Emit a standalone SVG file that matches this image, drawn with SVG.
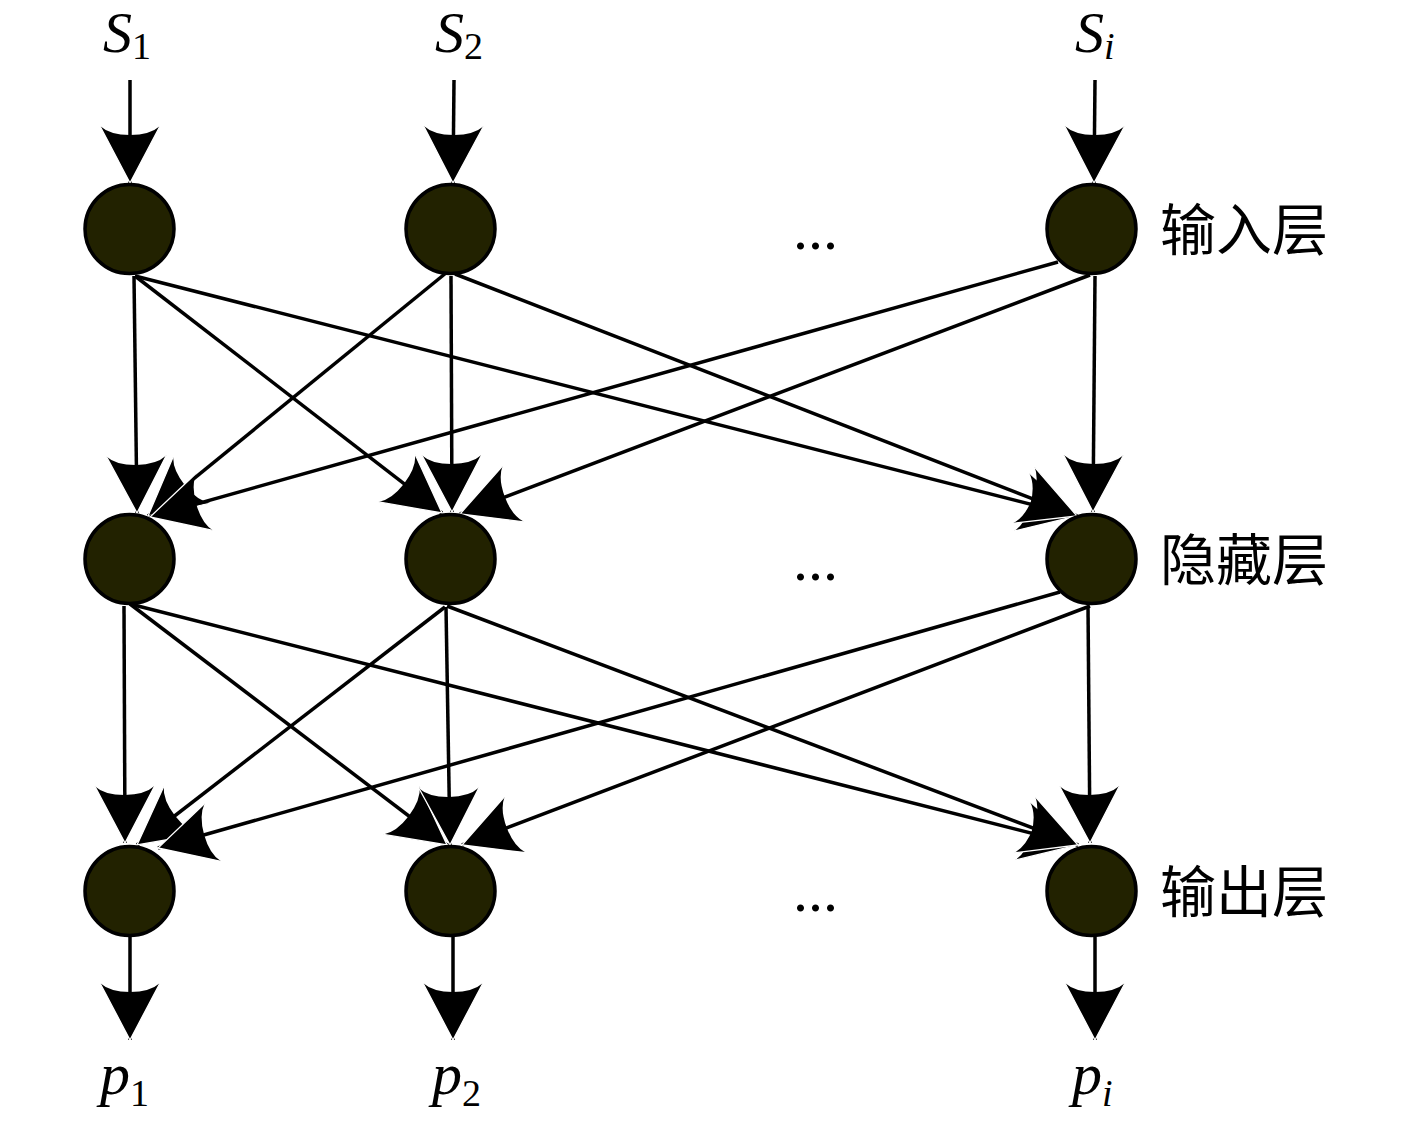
<svg xmlns="http://www.w3.org/2000/svg" width="1417" height="1125" viewBox="0 0 1417 1125">
<style>
.c{stroke:#000;stroke-width:3.5;fill:none;marker-end:url(#ah)}
.n{fill:#222200;stroke:#000;stroke-width:3.5}
.m{font-family:"Liberation Serif","Times New Roman",serif;font-size:60px;font-style:italic;fill:#000}
.t{font-size:58px}
.s{font-style:normal;font-size:38px}
.si{font-style:italic;font-size:38px}
.d{font-family:"Liberation Serif",serif;font-size:60px;fill:#000}
.z{font-family:"Noto Sans CJK SC",sans-serif;font-size:56px;fill:#000}
</style>
<defs>
<marker id="ah" markerUnits="userSpaceOnUse" orient="auto" refX="0" refY="0" markerWidth="70" markerHeight="70" overflow="visible">
<path d="M0,0 L-57,-30 Q-48,-20 -48,0 Q-48,20 -57,30 Z" fill="#000"/>
<path d="M-57,-30 L0,0 L-57,30" fill="none" stroke="#fff" stroke-width="1.3"/>
</marker>
</defs>
<rect width="1417" height="1125" fill="#fff"/>
<g id="connectors">
<line class="c" x1="130" y1="80" x2="130" y2="183"/>
<line class="c" x1="454" y1="80" x2="453" y2="183"/>
<line class="c" x1="1095" y1="80" x2="1094" y2="183"/>
<line class="c" x1="134" y1="276" x2="137" y2="513"/>
<line class="c" x1="135" y1="276" x2="442" y2="513"/>
<line class="c" x1="135" y1="276" x2="1077" y2="516"/>
<line class="c" x1="446" y1="273" x2="148" y2="516"/>
<line class="c" x1="451" y1="276" x2="452" y2="512"/>
<line class="c" x1="455" y1="274" x2="1077" y2="516"/>
<line class="c" x1="1058" y1="262" x2="150" y2="517"/>
<line class="c" x1="1090" y1="275" x2="460" y2="514"/>
<line class="c" x1="1095" y1="276" x2="1093" y2="512"/>
<line class="c" x1="124" y1="606" x2="125" y2="843"/>
<line class="c" x1="130" y1="604" x2="447" y2="845"/>
<line class="c" x1="130" y1="604" x2="1078" y2="845"/>
<line class="c" x1="445" y1="607" x2="137" y2="845"/>
<line class="c" x1="446" y1="607" x2="450" y2="845"/>
<line class="c" x1="447" y1="606" x2="1078" y2="845"/>
<line class="c" x1="1060" y1="592" x2="158" y2="848"/>
<line class="c" x1="1090" y1="606" x2="462" y2="845"/>
<line class="c" x1="1088" y1="606" x2="1090" y2="843"/>
<line class="c" x1="130" y1="937" x2="130" y2="1040"/>
<line class="c" x1="453" y1="937" x2="453" y2="1040"/>
<line class="c" x1="1095" y1="937" x2="1095" y2="1040"/>
</g>
<g id="input1"><circle class="n" cx="129.5" cy="229" r="44.5"/></g>
<g id="input2"><circle class="n" cx="450.5" cy="229" r="44.5"/></g>
<g id="inputi"><circle class="n" cx="1091.5" cy="229" r="44.5"/></g>
<g id="hidden1"><circle class="n" cx="129.5" cy="559" r="44.5"/></g>
<g id="hidden2"><circle class="n" cx="450.5" cy="559" r="44.5"/></g>
<g id="hiddeni"><circle class="n" cx="1091.5" cy="559" r="44.5"/></g>
<g id="output1"><circle class="n" cx="129.5" cy="891" r="44.5"/></g>
<g id="output2"><circle class="n" cx="450.5" cy="891" r="44.5"/></g>
<g id="outputi"><circle class="n" cx="1091.5" cy="891" r="44.5"/></g>
<g id="labels">
<text class="m t" x="103" y="52">S<tspan class="s" dy="7">1</tspan></text>
<text class="m t" x="435" y="52">S<tspan class="s" dy="7">2</tspan></text>
<text class="m t" x="1075" y="52">S<tspan class="si" dy="7">i</tspan></text>
<text class="m" x="100" y="1094">p<tspan class="s" dy="12">1</tspan></text>
<text class="m" x="432" y="1094">p<tspan class="s" dy="12">2</tspan></text>
<text class="m" x="1072" y="1094">p<tspan class="si" dy="12">i</tspan></text>
<text class="d" x="793" y="249">...</text>
<text class="d" x="793" y="580">...</text>
<text class="d" x="793" y="911">...</text>
<text class="z" x="1160" y="250">输入层</text>
<text class="z" x="1160" y="580">隐藏层</text>
<text class="z" x="1160" y="912">输出层</text>
</g>
</svg>
